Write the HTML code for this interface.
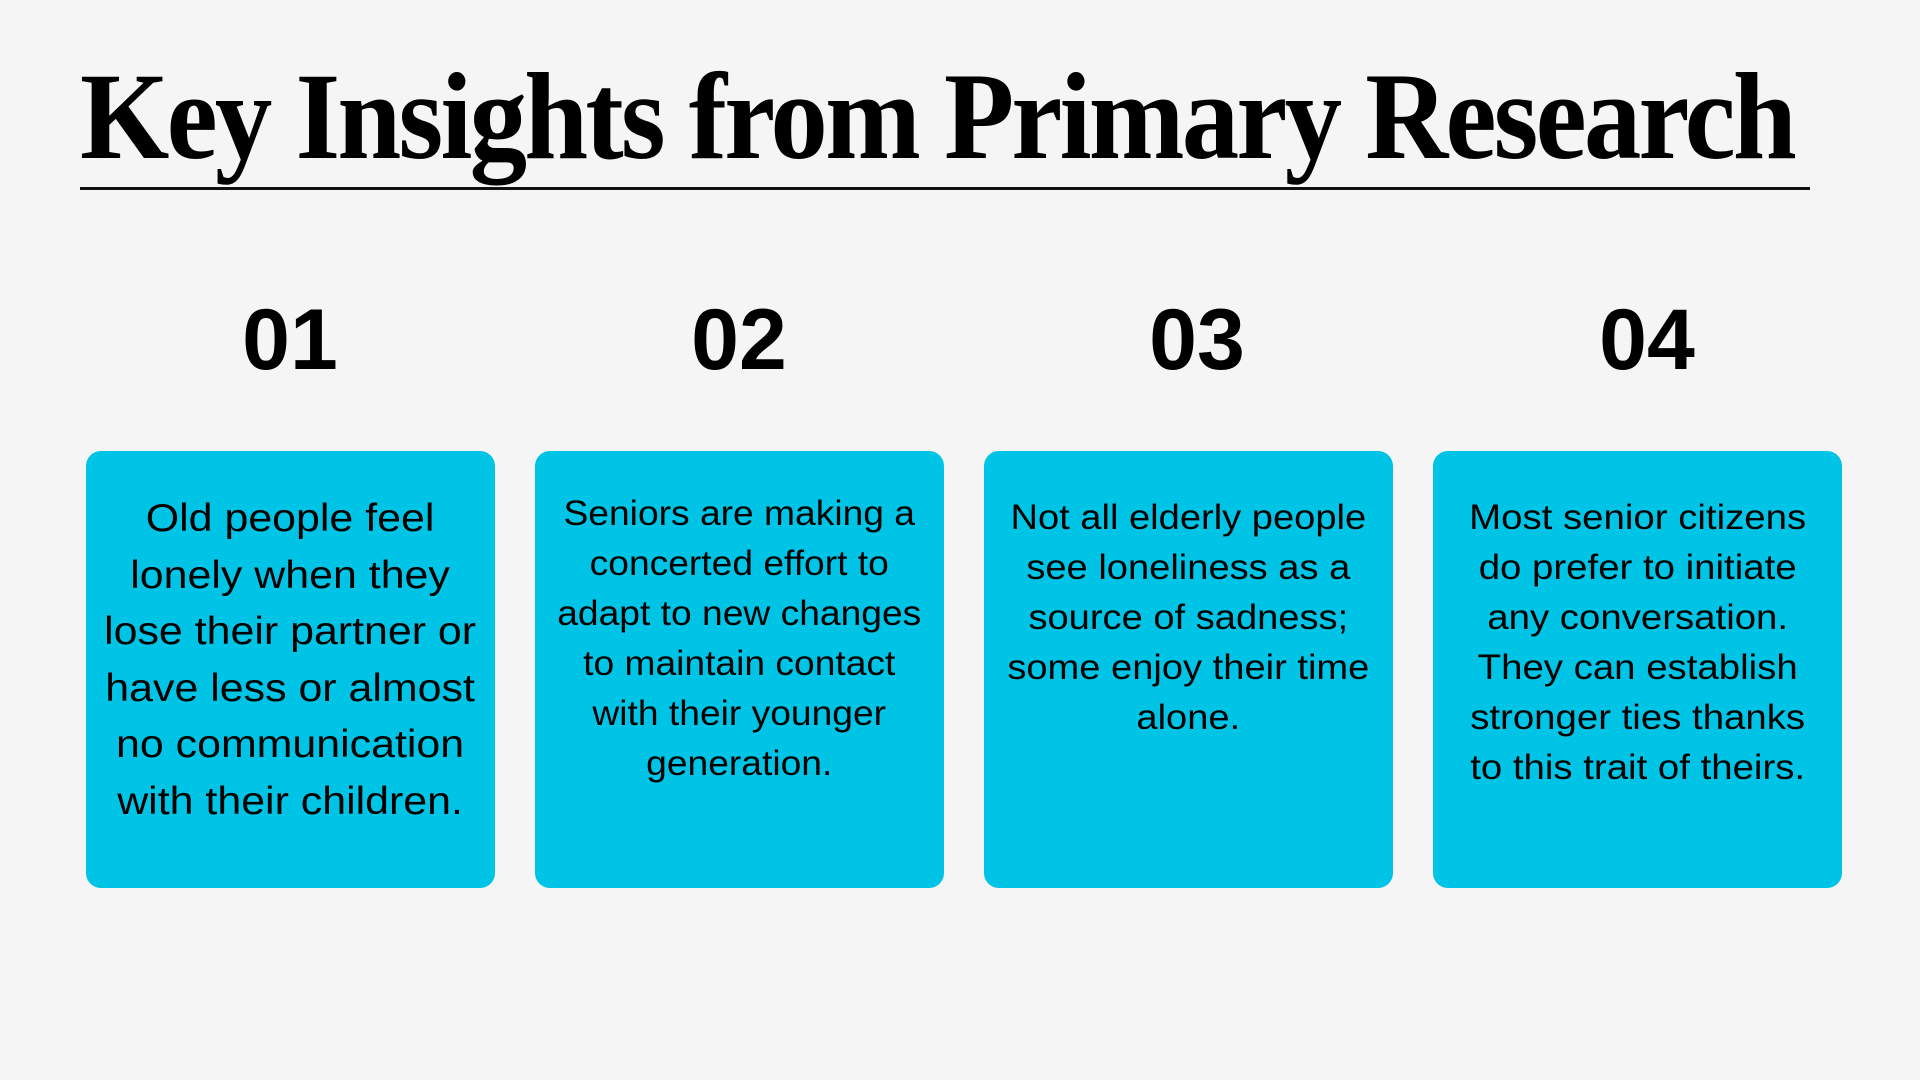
<!DOCTYPE html>
<html><head><meta charset="utf-8"><style>
html,body{margin:0;padding:0}
body{width:1920px;height:1080px;background:#f5f5f5;position:relative;overflow:hidden;font-family:"Liberation Sans",sans-serif;color:#000}
#title{position:absolute;left:80px;top:52px;font-family:"Liberation Serif",serif;font-weight:bold;font-size:124px;line-height:130px;white-space:nowrap;transform-origin:0 0;letter-spacing:-3px;margin:0}
#rule{position:absolute;left:80px;top:187px;width:1730px;height:3px;background:#111}
.num{position:absolute;top:290px;width:300px;margin-left:-150px;text-align:center;font-weight:bold;font-size:86px;line-height:100px}
.box{position:absolute;top:451px;width:409px;height:437px;background:#00c4e6;border-radius:15px;text-align:center;white-space:nowrap}
.box p{display:inline-block;margin:0;font-size:35px;line-height:50px;transform-origin:50% 0}
.box.big p{font-size:39px;line-height:56.5px}
</style></head><body>
<h1 id="title">Key Insights from Primary Research</h1>
<div id="rule"></div>
<div class="num" style="left:290px">01</div>
<div class="num" style="left:739px">02</div>
<div class="num" style="left:1197px">03</div>
<div class="num" style="left:1647px">04</div>
<div class="box big" style="left:86px"><p data-w="372" style="margin-top:40px">Old people feel<br>lonely when they<br>lose their partner or<br>have less or almost<br>no communication<br>with their children.</p></div>
<div class="box" style="left:535px"><p data-w="364" style="margin-top:38px">Seniors are making a<br>concerted effort to<br>adapt to new changes<br>to maintain contact<br>with their younger<br>generation.</p></div>
<div class="box" style="left:984px"><p data-w="362" style="margin-top:42px">Not all elderly people<br>see loneliness as a<br>source of sadness;<br>some enjoy their time<br>alone.</p></div>
<div class="box" style="left:1433px"><p data-w="337" style="margin-top:42px">Most senior citizens<br>do prefer to initiate<br>any conversation.<br>They can establish<br>stronger ties thanks<br>to this trait of theirs.</p></div>
<script>
var t=document.getElementById('title');
var w=t.getBoundingClientRect().width;
t.style.transform='scaleX('+(1714/w)+')';
document.querySelectorAll('.box p').forEach(function(p){
  var bw=p.getBoundingClientRect().width, max=+p.getAttribute('data-w');
  p.style.transform='scaleX('+(max/bw)+')';
});
</script>
</body></html>
